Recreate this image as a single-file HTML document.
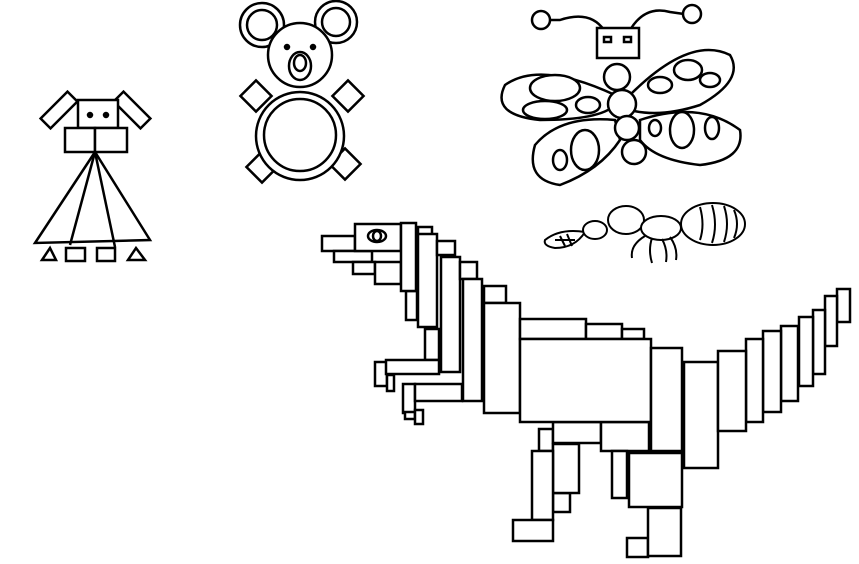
<!DOCTYPE html>
<html><head><meta charset="utf-8"><style>html,body{margin:0;padding:0;background:#fff}svg{display:block}</style></head>
<body>
<svg width="859" height="564" viewBox="0 0 859 564" xmlns="http://www.w3.org/2000/svg">
<rect width="859" height="564" fill="#fff"/>
<g stroke="#000" stroke-width="2.5" fill="#fff">
  <rect x="40" y="103" width="38" height="14" transform="rotate(-45 59 110)"/>
  <rect x="113" y="103" width="38" height="14" transform="rotate(45 132 110)"/>
  <rect x="78" y="100" width="40" height="28"/>
  <circle cx="90" cy="115" r="2" fill="#000"/><circle cx="106" cy="115" r="2" fill="#000"/>
  <rect x="65" y="128" width="30" height="24"/>
  <rect x="95" y="128" width="32" height="24"/>
  <polygon points="95,152 35,243 150,240"/>
  <line x1="95" y1="152" x2="70" y2="245"/><line x1="95" y1="152" x2="115" y2="247"/>
  <polygon points="42,260 50,248 56,260"/>
  <rect x="66" y="248" width="19" height="13"/><rect x="97" y="248" width="18" height="13"/>
  <polygon points="128,260 136,248 145,260"/>
</g>
<g stroke="#000" stroke-width="2.5" fill="#fff">
  <circle cx="262" cy="25" r="22"/><circle cx="262" cy="25" r="15"/>
  <circle cx="336" cy="22" r="21"/><circle cx="336" cy="22" r="14"/>
  <circle cx="300" cy="55" r="32"/>
  <circle cx="287" cy="47" r="2" fill="#000"/><circle cx="313" cy="47" r="2" fill="#000"/>
  <ellipse cx="300" cy="66" rx="11" ry="14"/><ellipse cx="300" cy="63" rx="6" ry="8"/>
  <rect x="245" y="85" width="22" height="22" transform="rotate(45 256 96)"/>
  <rect x="337" y="85" width="22" height="22" transform="rotate(45 348 96)"/>
  <rect x="251" y="156" width="22" height="22" transform="rotate(45 262 167)"/>
  <rect x="334" y="153" width="22" height="22" transform="rotate(45 345 164)"/>
  <circle cx="300" cy="136" r="44"/><circle cx="300" cy="135" r="36"/>
</g>
<g stroke="#000" stroke-width="2.5" fill="#fff">
  <path d="M604,30 Q590,10 560,20 L550,20" fill="none"/><circle cx="541" cy="20" r="9"/>
  <path d="M630,30 Q645,5 670,12 L684,14" fill="none"/><circle cx="692" cy="14" r="9"/>
  <path d="M615,95 Q540,60 505,85 Q490,115 540,120 Q600,120 615,105 Z"/>
  <ellipse cx="555" cy="88" rx="25" ry="13"/><ellipse cx="545" cy="110" rx="22" ry="9"/><ellipse cx="588" cy="105" rx="12" ry="8"/>
  <path d="M630,95 Q690,35 730,55 Q745,80 700,105 Q660,118 630,110 Z"/>
  <ellipse cx="688" cy="70" rx="14" ry="10"/><ellipse cx="710" cy="80" rx="10" ry="7"/><ellipse cx="660" cy="85" rx="12" ry="8"/>
  <path d="M615,120 Q560,115 535,145 Q525,180 560,185 Q600,170 620,140 Z"/>
  <ellipse cx="585" cy="150" rx="14" ry="20"/><ellipse cx="560" cy="160" rx="7" ry="10"/>
  <path d="M640,120 Q700,100 740,130 Q745,160 700,165 Q655,160 640,140 Z"/>
  <ellipse cx="682" cy="130" rx="12" ry="18"/><ellipse cx="655" cy="128" rx="6" ry="8"/><ellipse cx="712" cy="128" rx="7" ry="11"/>
  <rect x="597" y="28" width="42" height="30"/>
  <rect x="604" y="37" width="7" height="5"/><rect x="624" y="37" width="7" height="5"/>
  <circle cx="617" cy="77" r="13"/><circle cx="622" cy="104" r="14"/><circle cx="627" cy="128" r="12"/><circle cx="634" cy="152" r="12"/>
</g>
<g stroke="#000" stroke-width="2" fill="#fff">
  <path d="M545,240 Q560,228 585,232 Q575,248 555,248 Q543,246 545,240 Z"/>
  <path d="M555,240 L575,240 M560,236 L565,246 M567,234 L572,246" fill="none"/>
  <ellipse cx="595" cy="230" rx="12" ry="9"/>
  <ellipse cx="626" cy="220" rx="18" ry="14"/>
  <ellipse cx="661" cy="228" rx="20" ry="12"/>
  <ellipse cx="713" cy="224" rx="32" ry="21"/>
  <path d="M700,207 Q705,225 700,240 M712,205 Q718,225 712,243 M724,206 Q730,224 724,242 M734,210 Q740,224 734,238" fill="none"/>
  <path d="M645,236 Q630,245 632,258 M652,238 Q648,250 652,263 M662,239 Q668,250 666,262 M670,237 Q678,248 676,260" fill="none"/>
</g>
<g stroke="#000" stroke-width="2.5" fill="#fff">
  <rect x="322" y="236" width="33" height="15"/>
  <rect x="334" y="251" width="38" height="11"/>
  <rect x="353" y="262" width="22" height="12"/>
  <rect x="375" y="262" width="26" height="22"/>
  <rect x="355" y="224" width="46" height="27"/>
  <ellipse cx="377" cy="236" rx="9" ry="6"/><ellipse cx="377" cy="236" rx="4" ry="5"/>
  <rect x="406" y="291" width="11" height="29"/>
  <rect x="401" y="223" width="15" height="68"/>
  <rect x="418" y="227" width="14" height="9"/>
  <rect x="425" y="329" width="14" height="31"/>
  <rect x="418" y="234" width="19" height="93"/>
  <rect x="437" y="241" width="18" height="14"/>
  <rect x="441" y="257" width="19" height="115"/>
  <rect x="460" y="262" width="17" height="17"/>
  <rect x="375" y="362" width="12" height="24"/>
  <rect x="387" y="375" width="7" height="16"/>
  <rect x="386" y="360" width="53" height="14"/>
  <rect x="403" y="384" width="12" height="29"/>
  <rect x="405" y="412" width="10" height="7"/>
  <rect x="415" y="410" width="8" height="14"/>
  <rect x="415" y="384" width="47" height="17"/>
  <rect x="463" y="279" width="19" height="122"/>
  <rect x="484" y="286" width="22" height="17"/>
  <rect x="484" y="303" width="36" height="110"/>
  <rect x="520" y="319" width="66" height="20"/>
  <rect x="586" y="324" width="36" height="15"/>
  <rect x="622" y="329" width="22" height="10"/>
  <rect x="539" y="429" width="14" height="22"/>
  <rect x="553" y="493" width="17" height="19"/>
  <rect x="553" y="444" width="26" height="49"/>
  <rect x="532" y="451" width="21" height="69"/>
  <rect x="513" y="520" width="40" height="21"/>
  <rect x="553" y="422" width="48" height="21"/>
  <rect x="601" y="422" width="48" height="29"/>
  <rect x="520" y="339" width="131" height="83"/>
  <rect x="612" y="451" width="15" height="47"/>
  <rect x="629" y="453" width="53" height="54"/>
  <rect x="627" y="538" width="21" height="19"/>
  <rect x="648" y="508" width="33" height="48"/>
  <rect x="651" y="348" width="31" height="103"/>
  <rect x="684" y="362" width="34" height="106"/>
  <rect x="837" y="289" width="13" height="33"/>
  <rect x="825" y="296" width="12" height="50"/>
  <rect x="813" y="310" width="12" height="64"/>
  <rect x="799" y="317" width="14" height="69"/>
  <rect x="781" y="326" width="17" height="75"/>
  <rect x="763" y="331" width="18" height="81"/>
  <rect x="746" y="339" width="17" height="83"/>
  <rect x="718" y="351" width="28" height="80"/>
</g>
</svg>
</body></html>
